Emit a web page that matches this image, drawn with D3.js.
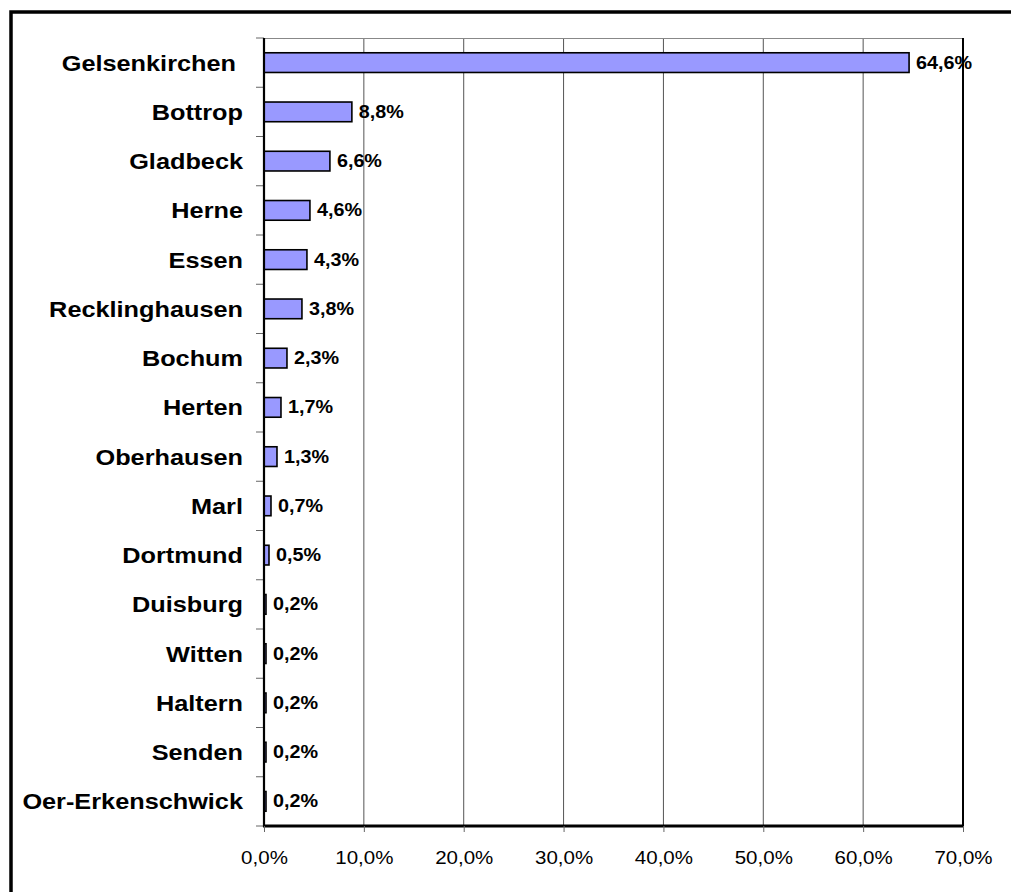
<!DOCTYPE html>
<html>
<head>
<meta charset="utf-8">
<script src="https://cdnjs.cloudflare.com/ajax/libs/d3/7.8.5/d3.min.js"></script>
<style>
  body { margin: 0; background: #fff; }
  text { font-family: "Liberation Sans", Arial, sans-serif; fill: #000; }
</style>
</head>
<body>
<svg id="chart" width="1011" height="892"></svg>
<script>
// data
var cities = ["Gelsenkirchen ", "Bottrop", "Gladbeck", "Herne", "Essen", "Recklinghausen",
              "Bochum", "Herten", "Oberhausen", "Marl", "Dortmund", "Duisburg",
              "Witten", "Haltern", "Senden", "Oer-Erkenschwick"];
var shares = [64.6, 8.8, 6.6, 4.6, 4.3, 3.8, 2.3, 1.7, 1.3, 0.7, 0.5, 0.2, 0.2, 0.2, 0.2, 0.2];
var xTicks = [0, 10, 20, 30, 40, 50, 60, 70];

var fmt = function(v) { return v.toFixed(1).replace(".", ",") + "%"; };

// plot area
var pLeft = 264, pRight = 963, pTop = 38, pBottom = 826;

var svg = d3.select("#chart");

// outer frame
svg.append("rect")
    .attr("x", 11).attr("y", 12)
    .attr("width", 1100).attr("height", 1000)
    .attr("fill", "none")
    .attr("stroke", "#000")
    .attr("stroke-width", 3.5);

var x = d3.scaleLinear().domain([0, 70]).range([pLeft, pRight]);
var y = d3.scaleBand().domain(d3.range(cities.length)).range([pTop, pBottom]).padding(0);
var bw = y.bandwidth();

// gridlines
svg.selectAll(".grid")
    .data(xTicks.slice(1, -1))
  .enter().append("line")
    .attr("x1", function(d) { return x(d); })
    .attr("x2", function(d) { return x(d); })
    .attr("y1", pTop).attr("y2", pBottom)
    .attr("stroke", "#555")
    .attr("stroke-width", 1);

// plot border top + right
svg.append("line")
    .attr("x1", pLeft).attr("x2", pRight).attr("y1", pTop + 0.5).attr("y2", pTop + 0.5)
    .attr("stroke", "#888").attr("stroke-width", 1);
svg.append("line")
    .attr("x1", pRight).attr("x2", pRight).attr("y1", pTop).attr("y2", pBottom)
    .attr("stroke", "#000").attr("stroke-width", 2);

// bars
svg.selectAll(".bar")
    .data(shares)
  .enter().append("rect")
    .attr("class", "bar")
    .attr("x", x(0))
    .attr("y", function(d, i) { return y(i) + bw * 0.3; })
    .attr("width", function(d) { return x(d) - x(0); })
    .attr("height", bw * 0.4)
    .attr("fill", "#9999ff")
    .attr("stroke", "#000")
    .attr("stroke-width", 1.6);

// value labels
svg.selectAll(".val")
    .data(shares)
  .enter().append("text")
    .attr("transform", function(d, i) {
      return "translate(" + (x(d) + 7) + "," + (y(i) + bw / 2 + 6) + ") scale(1.13,1)";
    })
    .style("font-size", "17.5px")
    .style("font-weight", "bold")
    .text(fmt);

// y axis: ticks at band edges
var yEdges = d3.range(cities.length + 1).map(function(i) { return pTop + i * bw; });
svg.selectAll(".ytick")
    .data(yEdges)
  .enter().append("line")
    .attr("x1", pLeft - 8).attr("x2", pLeft)
    .attr("y1", function(d) { return d; })
    .attr("y2", function(d) { return d; })
    .attr("stroke", "#666").attr("stroke-width", 1);

svg.selectAll(".cat")
    .data(cities)
  .enter().append("text")
    .attr("transform", function(d, i) {
      return "translate(243," + (y(i) + bw / 2 + 8) + ") scale(1.15,1)";
    })
    .attr("text-anchor", "end")
    .style("font-size", "22px")
    .style("font-weight", "bold")
    .style("white-space", "pre")
    .text(function(d) { return d; });

svg.append("line")
    .attr("x1", pLeft).attr("x2", pLeft).attr("y1", pTop).attr("y2", pBottom + 1)
    .attr("stroke", "#000").attr("stroke-width", 2.2);

// x axis
var xAxis = svg.append("g")
    .attr("transform", "translate(0," + pBottom + ")")
    .call(d3.axisBottom(x).tickValues(xTicks).tickSize(6).tickPadding(19)
          .tickFormat(fmt));
xAxis.select(".domain").attr("stroke", "#000").attr("stroke-width", 3)
    .attr("d", "M" + (pLeft - 1) + ",0H" + (pRight + 1));
xAxis.selectAll(".tick line").attr("stroke", "#666");
xAxis.selectAll(".tick text")
    .attr("font-family", null)
    .attr("font-size", null)
    .style("font-size", "19px")
    .attr("transform", "scale(1.08,1)");
</script>
</body>
</html>
